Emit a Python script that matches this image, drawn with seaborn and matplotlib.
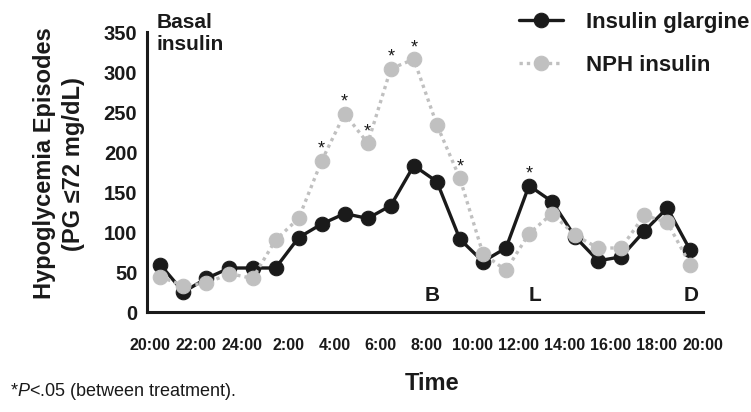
import numpy as np
import seaborn as sns
import matplotlib
matplotlib.use("Agg")
import matplotlib.pyplot as plt

# data (hypoglycemia episodes per hour, from 20:00)
glargine = [59, 25, 42, 55, 55, 55, 93, 110, 123, 117, 133, 183,
            163, 91, 63, 80, 158, 138, 94, 64, 69, 101, 130, 77]
nph = [44, 33, 36, 48, 42, 90, 117, 189, 248, 211, 304, 316,
       234, 167, 73, 52, 98, 123, 96, 80, 80, 121, 112, 59]
hours = np.arange(len(glargine)) + 0.45          # hours after 20:00
sig_nph = [7, 8, 9, 10, 11, 13]                  # * above NPH points
sig_glargine = [16]                              # * above glargine point
tick_hours = list(range(0, 25, 2))
tick_labels = ["20:00", "22:00", "24:00", "2:00", "4:00", "6:00", "8:00",
               "10:00", "12:00", "14:00", "16:00", "18:00", "20:00"]

# step 1: style
sns.set_style("white")
plt.rcParams["font.family"] = ["Liberation Sans", "DejaVu Sans"]
plt.rcParams["mathtext.fontset"] = "custom"
plt.rcParams["mathtext.rm"] = "Liberation Sans"
plt.rcParams["mathtext.it"] = "Liberation Sans:italic"
ink = "#1a1a1a"
grey = "#c0c0c0"

fig = plt.figure(figsize=(7.51, 4.12), dpi=100)
ax = fig.add_axes([147 / 751, 1 - 312 / 412, 556 / 751, 280 / 412])

# step 2: plot the two series
sns.lineplot(x=hours, y=glargine, ax=ax, color=ink, linewidth=2.4,
             marker="o", markersize=10.5, markeredgecolor=ink,
             label="Insulin glargine", zorder=3)
sns.lineplot(x=hours, y=nph, ax=ax, color=grey, linewidth=2.4, linestyle=(0, (1, 1.2)),
             marker="o", markersize=10.5, markeredgecolor=grey,
             label="NPH insulin", zorder=4)

# step 3: significance marks
for i in sig_nph:
    ax.annotate("*", (hours[i], nph[i]), xytext=(0, 7), textcoords="offset pixels",
                ha="center", va="baseline", fontsize=13, color=ink)
for i in sig_glargine:
    ax.annotate("*", (hours[i], glargine[i]), xytext=(0, 7), textcoords="offset pixels",
                ha="center", va="baseline", fontsize=13, color=ink)

# step 4: axes
ax.set_xlim(-0.13, 24)
ax.set_ylim(0, 350)
ax.set_yticks(range(0, 351, 50))
ax.set_xticks(tick_hours)
ax.set_xticklabels(tick_labels)
sns.despine(ax=ax)
for side in ["left", "bottom"]:
    ax.spines[side].set_linewidth(2.2)
    ax.spines[side].set_color(ink)
ax.tick_params(axis="y", length=5, width=2, color=ink, labelsize=14.5, labelcolor=ink, pad=2)
ax.tick_params(axis="x", length=6, width=2, color=ink, labelsize=11.5, labelcolor=ink, pad=13)
for lab in ax.get_xticklabels() + ax.get_yticklabels():
    lab.set_fontweight("bold")

ax.set_ylabel("Hypoglycemia Episodes\n(PG \u226472 mg/dL)", fontsize=17, fontweight="bold",
              color=ink, va="center", linespacing=1.3)
ax.yaxis.set_label_coords(-0.158, 0.53)
ax.set_xlabel("Time", fontsize=17, fontweight="bold", color=ink, va="center")
ax.xaxis.set_label_coords(0.513, -0.254)

# step 5: annotations
ax.text(0.3, 348, "Basal\ninsulin", fontsize=15, fontweight="bold", color=ink,
        va="center", linespacing=1.15)
for x, letter in [(12.24, "B"), (16.7, "L"), (23.5, "D")]:
    ax.text(x, 21, letter, fontsize=15, fontweight="bold", color=ink, ha="center", va="center")

fig.text(10 / 751, 1 - 391 / 412, "*$\\mathit{P}$<.05 (between treatment).",
         fontsize=13, color=ink, va="center")

# step 6: legend
leg = ax.legend(loc="upper left", bbox_to_anchor=(519 / 751, 1 - 12 / 412),
                bbox_transform=fig.transFigure, frameon=False, borderpad=0,
                borderaxespad=0, handlelength=2.0, handletextpad=1.0,
                labelspacing=1.0, prop={"size": 16, "weight": "bold"})
for t in leg.get_texts():
    t.set_color(ink)

fig.savefig("out.png", dpi=100)
